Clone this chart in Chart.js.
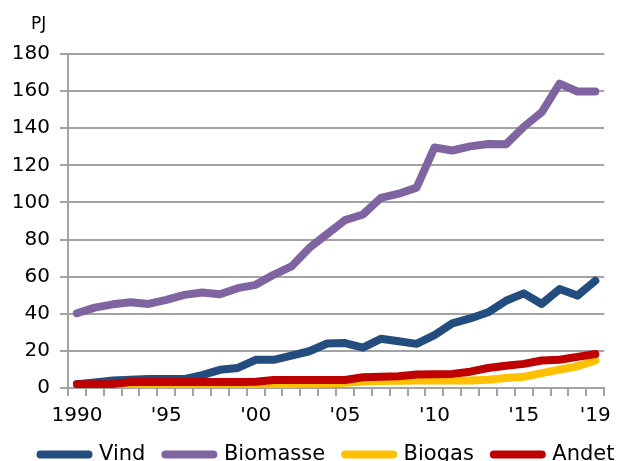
<!DOCTYPE html>
<html>
<head>
<meta charset="utf-8">
<script src="https://cdn.jsdelivr.net/npm/chart.js@4/dist/chart.umd.min.js"></script>
<style>
html,body{margin:0;padding:0;background:#fff;overflow:hidden;}
#wrap{width:619px;height:461px;overflow:hidden;position:relative;}
canvas{display:block;}
</style>
</head>
<body>
<div id="wrap"><canvas id="c" width="619" height="487"></canvas></div>
<script>
const years = ['1990','1991','1992','1993','1994','1995','1996','1997','1998','1999','2000','2001','2002','2003','2004','2005','2006','2007','2008','2009','2010','2011','2012','2013','2014','2015','2016','2017','2018','2019'];
const tickLabels = ['1990','','','','',"'95",'','','','',"'00",'','','','',"'05",'','','','',"'10",'','','','',"'15",'','','',"'19"];
const vind = [2, 3, 4, 4.5, 4.8, 4.8, 4.8, 6.9, 9.8, 10.8, 15.2, 15.2, 17.5, 19.8, 24, 24.2, 21.8, 26.5, 25.2, 23.8, 28.5, 34.8, 37.5, 40.8, 47, 51, 45.3, 53.3, 49.8, 57.8];
const biomasse = [40.3, 43.3, 45.1, 46.2, 45.3, 47.5, 50.2, 51.5, 50.5, 53.8, 55.6, 61, 65.5, 75.5, 83, 90.5, 93.5, 102.5, 104.7, 108, 129.6, 128, 130.2, 131.5, 131.3, 140.8, 148.6, 164, 159.8, 159.8];
const biogas = [1, 1, 1.2, 1.5, 1.5, 1.5, 1.5, 1.5, 1.5, 1.6, 1.8, 2, 2.2, 2.4, 2.6, 2.8, 3.5, 3.8, 3.9, 4, 4, 4, 4, 4.5, 5.4, 6, 8, 9.9, 11.7, 14.8];
const andet = [2, 2, 2.2, 3.2, 3.3, 3.3, 3.3, 3.3, 3.3, 3.3, 3.4, 4.3, 4.3, 4.3, 4.3, 4.3, 5.8, 6, 6.3, 7.3, 7.4, 7.6, 8.8, 10.8, 12, 13, 14.8, 15.2, 16.8, 18.3];
const seriesNames = ['Vind','Biomasse','Biogas','Andet'];
const seriesColors = ['#234D7F','#8064A2','#FFC000','#C00000'];
const unitLabel = 'PJ';

const FONT = 'DejaVu Sans';
const GRID = '#a3a3a3';

const allData = [vind, biomasse, biogas, andet];
const datasets = allData.map((d, i) => ({
  label: seriesNames[i],
  data: d,
  borderColor: seriesColors[i],
  backgroundColor: seriesColors[i],
  borderWidth: 8,
  borderCapStyle: 'round',
  borderJoinStyle: 'round',
  pointRadius: 0,
  tension: 0,
  fill: false,
  yAxisID: 'y',
  order: 4 - i
}));

const unitPlugin = {
  id: 'unitLabel',
  afterLayout(chart) {
    // place the legend row as in the reference
    if (chart.legend) {
      chart.legend.left += 18; chart.legend.right += 18;
      chart.legend.top -= 12; chart.legend.bottom -= 12;
    }
  },
  afterDraw(chart) {
    const ctx = chart.ctx;
    ctx.save();
    ctx.fillStyle = '#000';
    ctx.font = '17px "' + FONT + '"';
    ctx.textBaseline = 'alphabetic';
    ctx.textAlign = 'left';
    ctx.fillText(unitLabel, 31, 29);
    ctx.restore();
  }
};

new Chart(document.getElementById('c'), {
  type: 'line',
  data: { labels: years, datasets },
  plugins: [unitPlugin],
  options: {
    responsive: false,
    animation: false,
    events: [],
    layout: { padding: { left: 0, right: 0, top: 54, bottom: 0 } },
    plugins: {
      tooltip: { enabled: false },
      title: { display: false },
      legend: {
        position: 'bottom',
        align: 'center',
        labels: {
          usePointStyle: true,
          pointStyle: 'line',
          pointStyleWidth: 48,
          boxHeight: 21,
          padding: 20,
          color: '#000',
          font: { family: FONT, size: 21 },
          generateLabels: (chart) => Chart.defaults.plugins.legend.labels.generateLabels(chart).map(l => Object.assign(l, { lineCap: 'round', lineWidth: 8 })),
          sort: (a, b) => a.datasetIndex - b.datasetIndex
        }
      }
    },
    scales: {
      x: {
        type: 'category',
        offset: true,
        grid: {
          offset: true,
          drawOnChartArea: false,
          drawTicks: true,
          tickLength: 8,
          color: GRID,
          lineWidth: 2
        },
        border: { display: true, color: GRID, width: 2 },
        ticks: {
          autoSkip: false,
          maxRotation: 0,
          minRotation: 0,
          padding: 8,
          color: '#000',
          font: { family: FONT, size: 20 },
          callback: (v, i) => tickLabels[i]
        }
      },
      y: {
        position: 'left',
        min: 0,
        max: 180,
        afterFit: (scale) => { scale.width = 68; },
        ticks: {
          stepSize: 20,
          padding: 10,
          color: '#000',
          font: { family: FONT, size: 20 }
        },
        grid: {
          color: GRID,
          lineWidth: 2,
          drawTicks: true,
          tickLength: 8
        },
        border: { display: true, color: GRID, width: 2 }
      },
      yRight: {
        position: 'right',
        display: true,
        afterFit: (scale) => { scale.width = 13; },
        ticks: { display: false },
        grid: { display: false, drawTicks: false },
        border: { display: false }
      }
    }
  }
});
</script>
</body>
</html>
